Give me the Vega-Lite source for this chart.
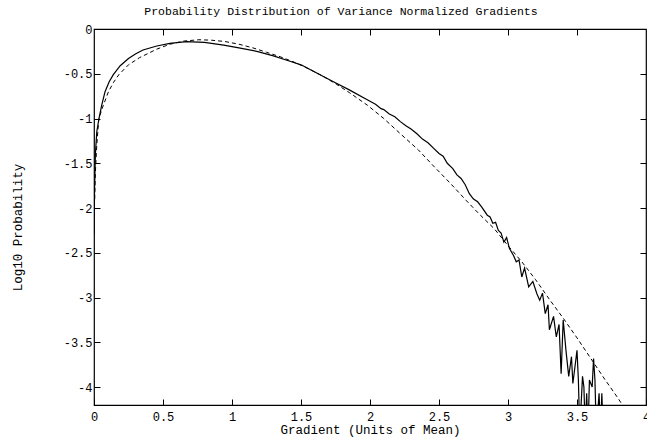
{
  "$schema": "https://vega.github.io/schema/vega-lite/v6.json",
  "width": 552,
  "height": 376,
  "autosize": {"type": "none"},
  "padding": {"left": 94, "top": 29, "right": 1, "bottom": 33},
  "background": "white",
  "config": {
    "font": "Liberation Mono",
    "view": {"stroke": "black", "strokeWidth": 1.2},
    "axis": {
      "grid": false,
      "domain": false,
      "tickColor": "black",
      "tickSize": -6,
      "tickWidth": 1,
      "labelFont": "Liberation Mono",
      "labelFontSize": 12,
      "labelColor": "black",
      "titleFont": "Liberation Mono",
      "titleFontSize": 12.5,
      "titleFontWeight": "normal",
      "titleColor": "black"
    }
  },
  "title": {
    "text": "Probability Distribution of Variance Normalized Gradients",
    "font": "Liberation Mono",
    "fontSize": 11.5,
    "fontWeight": "normal",
    "color": "black",
    "anchor": "middle",
    "frame": "group",
    "dx": -29,
    "offset": 6
  },
  "datasets": {
    "emp": [
      {"x": 0.0, "y": -2.3}, {"x": 0.004, "y": -1.8}, {"x": 0.01, "y": -1.4}, {"x": 0.02, "y": -1.15},
      {"x": 0.036, "y": -1.0}, {"x": 0.056, "y": -0.85}, {"x": 0.08, "y": -0.7}, {"x": 0.11, "y": -0.59},
      {"x": 0.14, "y": -0.51}, {"x": 0.19, "y": -0.41}, {"x": 0.25, "y": -0.33}, {"x": 0.3, "y": -0.28},
      {"x": 0.355, "y": -0.235}, {"x": 0.455, "y": -0.19}, {"x": 0.55, "y": -0.16}, {"x": 0.67, "y": -0.14},
      {"x": 0.8, "y": -0.15}, {"x": 0.94, "y": -0.18}, {"x": 1.05, "y": -0.21}, {"x": 1.18, "y": -0.25},
      {"x": 1.3, "y": -0.3}, {"x": 1.42, "y": -0.36}, {"x": 1.5, "y": -0.4}, {"x": 1.6, "y": -0.48},
      {"x": 1.735, "y": -0.59}, {"x": 1.85, "y": -0.68}, {"x": 1.98, "y": -0.79}, {"x": 2.04, "y": -0.84},
      {"x": 2.08, "y": -0.89}, {"x": 2.1, "y": -0.9}, {"x": 2.14, "y": -0.95}, {"x": 2.18, "y": -0.98},
      {"x": 2.22, "y": -1.035}, {"x": 2.26, "y": -1.08}, {"x": 2.3, "y": -1.12}, {"x": 2.34, "y": -1.17},
      {"x": 2.38, "y": -1.23}, {"x": 2.42, "y": -1.27}, {"x": 2.46, "y": -1.33}, {"x": 2.5, "y": -1.39},
      {"x": 2.53, "y": -1.42}, {"x": 2.56, "y": -1.5}, {"x": 2.6, "y": -1.56}, {"x": 2.63, "y": -1.63},
      {"x": 2.66, "y": -1.67}, {"x": 2.69, "y": -1.74}, {"x": 2.72, "y": -1.84}, {"x": 2.75, "y": -1.9},
      {"x": 2.78, "y": -1.93}, {"x": 2.81, "y": -1.99}, {"x": 2.85, "y": -2.08}, {"x": 2.87, "y": -2.1},
      {"x": 2.89, "y": -2.17}, {"x": 2.91, "y": -2.16}, {"x": 2.93, "y": -2.25}, {"x": 2.95, "y": -2.28},
      {"x": 2.97, "y": -2.38}, {"x": 2.99, "y": -2.33}, {"x": 3.01, "y": -2.45}, {"x": 3.04, "y": -2.53},
      {"x": 3.06, "y": -2.6}, {"x": 3.08, "y": -2.58}, {"x": 3.1, "y": -2.77}, {"x": 3.12, "y": -2.67},
      {"x": 3.15, "y": -2.88}, {"x": 3.18, "y": -2.82}, {"x": 3.21, "y": -2.96}, {"x": 3.23, "y": -3.03},
      {"x": 3.25, "y": -2.95}, {"x": 3.27, "y": -3.18}, {"x": 3.29, "y": -3.08}, {"x": 3.3, "y": -3.36},
      {"x": 3.33, "y": -3.21}, {"x": 3.35, "y": -3.44}, {"x": 3.37, "y": -3.3}, {"x": 3.385, "y": -3.85},
      {"x": 3.4, "y": -3.25}, {"x": 3.42, "y": -3.59}, {"x": 3.44, "y": -3.88}, {"x": 3.46, "y": -3.66},
      {"x": 3.47, "y": -3.96}, {"x": 3.5, "y": -3.59}, {"x": 3.51, "y": -3.92}, {"x": 3.52, "y": -4.5},
      {"x": 3.54, "y": -3.88}, {"x": 3.55, "y": -4.0}, {"x": 3.56, "y": -4.5}, {"x": 3.57, "y": -4.07},
      {"x": 3.58, "y": -4.5}, {"x": 3.59, "y": -3.92}, {"x": 3.61, "y": -4.0}, {"x": 3.62, "y": -3.68},
      {"x": 3.63, "y": -3.92}, {"x": 3.64, "y": -4.5}, {"x": 3.66, "y": -4.07}, {"x": 3.67, "y": -4.5},
      {"x": 3.68, "y": -4.07}, {"x": 3.69, "y": -4.5}
    ],
    "fit": [
      {"x": 0.005, "y": -1.9}, {"x": 0.01, "y": -1.6}, {"x": 0.02, "y": -1.3}, {"x": 0.035, "y": -1.0},
      {"x": 0.068, "y": -0.85}, {"x": 0.105, "y": -0.7}, {"x": 0.14, "y": -0.6}, {"x": 0.18, "y": -0.51},
      {"x": 0.25, "y": -0.4}, {"x": 0.33, "y": -0.32}, {"x": 0.455, "y": -0.225}, {"x": 0.55, "y": -0.17},
      {"x": 0.65, "y": -0.135}, {"x": 0.76, "y": -0.12}, {"x": 0.85, "y": -0.125}, {"x": 0.95, "y": -0.14},
      {"x": 1.05, "y": -0.17}, {"x": 1.15, "y": -0.21}, {"x": 1.25, "y": -0.26}, {"x": 1.35, "y": -0.31},
      {"x": 1.45, "y": -0.37}, {"x": 1.55, "y": -0.44}, {"x": 1.65, "y": -0.52}, {"x": 1.75, "y": -0.61},
      {"x": 1.85, "y": -0.71}, {"x": 1.98, "y": -0.85}, {"x": 2.1, "y": -1.0}, {"x": 2.22, "y": -1.17},
      {"x": 2.35, "y": -1.35}, {"x": 2.46, "y": -1.53}, {"x": 2.58, "y": -1.72}, {"x": 2.7, "y": -1.92},
      {"x": 2.8, "y": -2.08}, {"x": 2.9, "y": -2.23}, {"x": 3.0, "y": -2.42}, {"x": 3.1, "y": -2.6},
      {"x": 3.2, "y": -2.8}, {"x": 3.3, "y": -3.02}, {"x": 3.4, "y": -3.23}, {"x": 3.5, "y": -3.45},
      {"x": 3.6, "y": -3.68}, {"x": 3.7, "y": -3.91}, {"x": 3.8, "y": -4.13}, {"x": 3.85, "y": -4.25}
    ]
  },
  "layer": [
    {
      "data": {"name": "emp"},
      "mark": {"type": "line", "color": "black", "strokeWidth": 1.2, "clip": true},
      "encoding": {
        "x": {
          "field": "x", "type": "quantitative",
          "scale": {"domain": [0, 4], "nice": false, "zero": false},
          "axis": {
            "orient": "bottom",
            "values": [0, 0.5, 1, 1.5, 2, 2.5, 3, 3.5, 4],
            "labelExpr": "'' + datum.value",
            "labelPadding": 12,
            "labelFlush": false,
            "title": "Gradient (Units of Mean)",
            "titleX": 276, "titleY": 24,
            "titleAlign": "center", "titleBaseline": "middle"
          }
        },
        "y": {
          "field": "y", "type": "quantitative",
          "scale": {"domain": [-4.2, 0], "nice": false, "zero": false},
          "axis": {
            "orient": "left",
            "values": [0, -0.5, -1, -1.5, -2, -2.5, -3, -3.5, -4],
            "labelExpr": "'' + datum.value",
            "labelPadding": 8,
            "labelFlush": false,
            "title": "Log10 Probability",
            "titleX": -77, "titleY": 198,
            "titleAngle": -90,
            "titleAlign": "center", "titleBaseline": "middle"
          }
        }
      }
    },
    {
      "data": {"name": "fit"},
      "mark": {"type": "line", "color": "black", "strokeWidth": 1, "strokeDash": [4, 3], "clip": true},
      "encoding": {
        "x": {
          "field": "x", "type": "quantitative",
          "scale": {"domain": [0, 4], "nice": false, "zero": false},
          "axis": {
            "orient": "top",
            "values": [0.5, 1, 1.5, 2, 2.5, 3, 3.5],
            "labels": false,
            "title": null
          }
        },
        "y": {
          "field": "y", "type": "quantitative",
          "scale": {"domain": [-4.2, 0], "nice": false, "zero": false},
          "axis": {
            "orient": "right",
            "values": [-0.5, -1, -1.5, -2, -2.5, -3, -3.5, -4],
            "labels": false,
            "title": null
          }
        }
      }
    }
  ],
  "resolve": {"axis": {"x": "independent", "y": "independent"}}
}
